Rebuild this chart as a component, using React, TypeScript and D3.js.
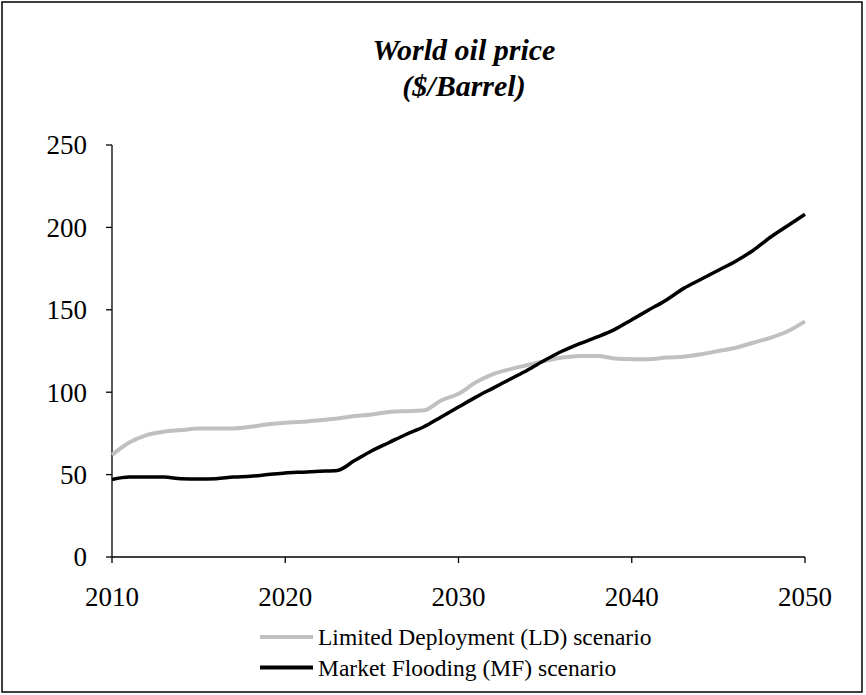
import React from "react";
import * as d3 from "d3";

const years: number[] = d3.range(2010, 2051);
const ldValues: number[] = [
  62, 69.5, 74, 76, 77, 78, 78, 78, 79, 80.5,
  81.5, 82, 83, 84, 85.5, 86.5, 88, 88.5, 89, 95,
  99, 106, 111, 114, 116.5, 119, 121, 122, 122, 120.5,
  120, 120, 121, 121.5, 123, 125, 127, 130, 133, 137,
  143,
];
const mfValues: number[] = [
  47, 48.5, 48.5, 48.5, 47.5, 47.3, 47.5, 48.5, 49, 50,
  51, 51.5, 52, 52.5, 58.5, 64.5, 69.5, 74.5, 79, 85,
  91, 97, 102.5, 108, 113.5, 119.5, 125, 129.5, 133.5, 138,
  144, 150, 156, 163, 168.5, 174, 179.5, 186, 194, 201,
  208,
];
const xTicks: number[] = [2010, 2020, 2030, 2040, 2050];
const yTicks: number[] = [0, 50, 100, 150, 200, 250];
const titleLines: string[] = ["World oil price", "($/Barrel)"];
const seriesNames: string[] = [
  "Limited Deployment (LD) scenario",
  "Market Flooding (MF) scenario",
];
const seriesColors: string[] = ["#c0c0c0", "#000000"];

const W = 866;
const H = 695;
const FONT = "'Liberation Serif', 'Times New Roman', serif";

export default function App() {
  const x = d3.scaleLinear().domain([2010, 2050]).range([112, 805]);
  const y = d3.scaleLinear().domain([0, 250]).range([557, 145]);
  const line = d3
    .line<number>()
    .x((_, i) => x(years[i]))
    .y((d) => y(d))
    .curve(d3.curveMonotoneX);
  const series = [ldValues, mfValues];

  return (
    <svg
      width={W}
      height={H}
      style={{ position: "absolute", left: 0, top: 0, background: "#fff" }}
      fontFamily={FONT}
    >
      <rect x={2} y={2} width={860} height={690} fill="#fff" stroke="#000" strokeWidth={1.5} />
      {titleLines.map((t, i) => (
        <text
          key={t}
          x={464}
          y={60 + i * 36}
          textAnchor="middle"
          fontSize={30}
          fontWeight="bold"
          fontStyle="italic"
        >
          {t}
        </text>
      ))}
      {/* y axis */}
      <line x1={x(2010)} x2={x(2010)} y1={y(250)} y2={y(0)} stroke="#000" strokeWidth={1.3} />
      {yTicks.map((t) => (
        <g key={t}>
          <line x1={x(2010) - 6} x2={x(2010)} y1={y(t)} y2={y(t)} stroke="#000" strokeWidth={1.3} />
          <text x={87} y={y(t)} dy="0.35em" textAnchor="end" fontSize={27}>
            {t}
          </text>
        </g>
      ))}
      {/* x axis */}
      <line x1={x(2010)} x2={x(2050)} y1={y(0)} y2={y(0)} stroke="#000" strokeWidth={1.3} />
      {xTicks.map((t) => (
        <g key={t}>
          <line x1={x(t)} x2={x(t)} y1={y(0)} y2={y(0) + 6} stroke="#000" strokeWidth={1.3} />
          <text x={x(t)} y={606} textAnchor="middle" fontSize={27}>
            {t}
          </text>
        </g>
      ))}
      {series.map((vals, i) => (
        <path
          key={i}
          d={line(vals) || ""}
          fill="none"
          stroke={seriesColors[i]}
          strokeWidth={i === 0 ? 4 : 3.5}
          strokeLinejoin="round"
        />
      ))}
      {seriesNames.map((n, i) => (
        <g key={n}>
          <line
            x1={260}
            x2={313}
            y1={637 + i * 30.5}
            y2={637 + i * 30.5}
            stroke={seriesColors[i]}
            strokeWidth={4}
          />
          <text x={318} y={637 + i * 30.5} dy="0.35em" fontSize={23.5}>
            {n}
          </text>
        </g>
      ))}
    </svg>
  );
}
